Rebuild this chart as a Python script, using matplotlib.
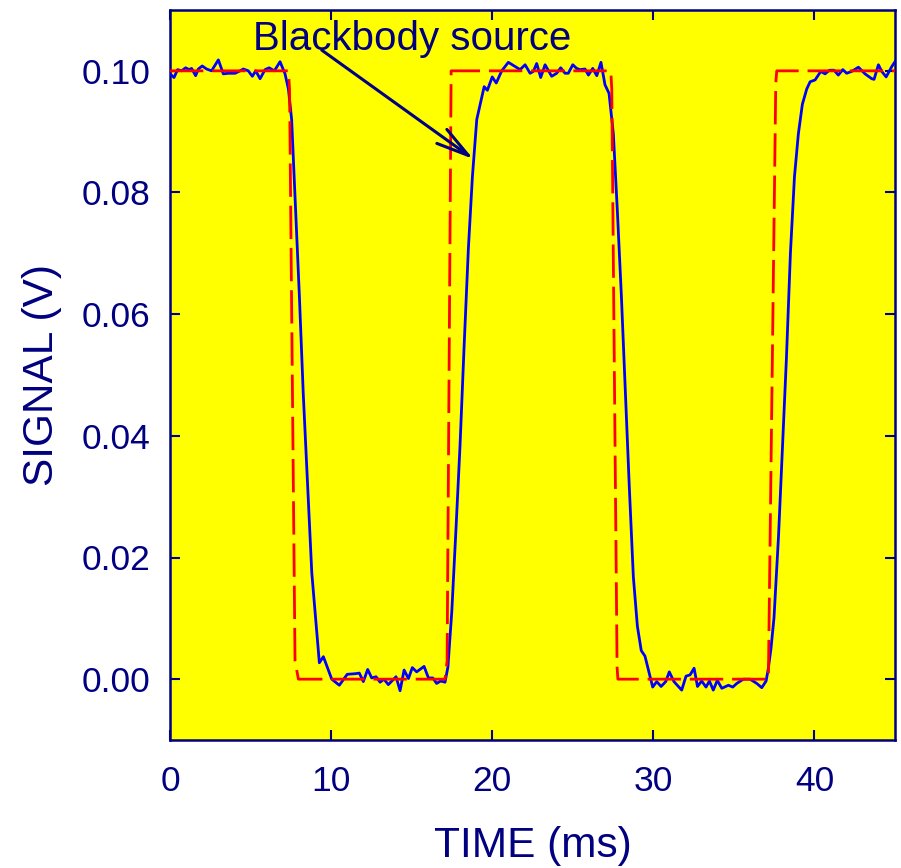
import matplotlib
matplotlib.use("Agg")
import matplotlib.pyplot as plt
from matplotlib.ticker import FormatStrFormatter

plt.rcParams['font.family'] = ['Liberation Sans', 'DejaVu Sans']

NAVY = '#000080'

# Measured detector signal (blue)
sig_t = [0.0, 0.25, 0.47, 0.72, 0.97, 1.18, 1.34, 1.59, 1.76, 2.0, 2.27, 2.58, 3.0, 3.31,
         3.62, 4.04, 4.35, 4.55, 4.86, 5.11, 5.32, 5.59, 5.9, 6.15, 6.48, 6.83, 7.14,
         7.35, 7.55, 7.78, 8.03, 8.27, 8.52, 8.80, 9.27, 9.52, 10.04, 10.51,
         11.0, 11.5, 11.75, 12.0, 12.27, 12.52, 12.79, 13.04, 13.28, 13.55, 14.03, 14.28,
         14.53, 14.8, 15.04, 15.31, 15.77, 16.04, 16.31, 16.55, 16.8, 17.07,
         17.25, 17.49, 17.76, 18.0, 18.25, 18.52, 18.77, 19.04, 19.5, 19.7, 20.0, 20.25,
         20.59, 21.0, 21.42, 21.73, 22.04, 22.35, 22.55, 22.76, 23.01, 23.28, 23.69, 24.0,
         24.25, 24.52, 24.72, 25.0, 25.24, 25.45, 25.76, 25.97, 26.24, 26.49, 26.75,
         27.0, 27.25, 27.52, 27.77, 28.02, 28.26, 28.51, 28.76, 29.01, 29.25, 29.48, 29.96,
         30.21, 30.48, 30.77, 30.99, 31.28, 31.76, 32.03, 32.28, 32.53, 32.74, 33.0, 33.27,
         33.48, 33.72, 33.97, 34.25, 34.66, 34.93, 35.18, 35.59, 36.0, 36.42, 36.73, 37.0,
         37.14, 37.3, 37.49, 37.77, 38.01, 38.26, 38.51, 38.76, 39.0, 39.25, 39.52, 39.73,
         40.04, 40.39, 40.66, 40.93, 41.22, 41.48, 41.76, 42.0, 42.31, 42.73, 43.14, 43.56,
         43.7, 43.97, 44.18, 44.45, 44.8, 45.0]
sig_v = [0.0995, 0.0989, 0.1002, 0.1000, 0.1005, 0.1002, 0.1004, 0.0992, 0.1003, 0.1008,
         0.1003, 0.1000, 0.1018, 0.0995, 0.0996, 0.0996, 0.1000, 0.1003, 0.1000, 0.0991,
         0.1000, 0.0987, 0.1002, 0.1005, 0.1000, 0.1015, 0.0995,
         0.0970, 0.0920, 0.0780, 0.0630, 0.0470, 0.0330, 0.0175, 0.0027, 0.0037, 0.0000, -0.0010,
         0.0008, 0.0009, 0.0010, -0.0004, 0.0016, 0.0002, 0.0004, -0.0005, 0.0000, -0.0009,
         0.0004, -0.0019, 0.0015, 0.0001, 0.0019, 0.0012, 0.0021, 0.0002, 0.0002, -0.0007,
         -0.0003, -0.0005,
         0.0020, 0.0111, 0.0252, 0.0383, 0.0544, 0.0708, 0.0826, 0.0920, 0.0974, 0.0968,
         0.0990, 0.0980, 0.1000, 0.1014, 0.1007, 0.1002, 0.1010, 0.0996, 0.0999, 0.1012,
         0.0989, 0.1010, 0.0991, 0.0996, 0.1005, 0.0996, 0.0996, 0.1010, 0.1004, 0.1002,
         0.1003, 0.0993, 0.1004, 0.0992, 0.1014,
         0.0977, 0.0963, 0.0896, 0.0768, 0.0628, 0.0473, 0.0315, 0.0168, 0.0087, 0.0047,
         0.0038, -0.0013,
         -0.0004, -0.0012, -0.0004, 0.0012, -0.0004, -0.0018, 0.0005, 0.0007, 0.0018, -0.0012,
         -0.0003, -0.0013, -0.0003, -0.0018, -0.0002, -0.0015, -0.0010, -0.0013, -0.0007,
         0.0000, 0.0000, -0.0007, -0.0014, -0.0003,
         0.0018, 0.0050, 0.0101, 0.0235, 0.0379, 0.0527, 0.0701, 0.0826, 0.0896, 0.0945,
         0.0970, 0.0982, 0.0985, 0.0999, 0.0995, 0.1001, 0.1001, 0.0993, 0.1002, 0.0996,
         0.0999, 0.1006, 0.0995, 0.0987, 0.0986, 0.1010, 0.0999, 0.0990, 0.1007, 0.1015]

# Blackbody reference (red dashed)
ref_t = [0.0, 7.35, 7.42, 7.76, 7.97, 17.07, 17.2, 17.45, 27.36, 27.42, 27.75, 27.8,
         37.14, 37.6, 37.66, 45.0]
ref_v = [0.1, 0.1, 0.097, 0.003, 0.0, 0.0, 0.003, 0.1, 0.1, 0.097, 0.002, 0.0,
         0.0, 0.098, 0.1, 0.1]

x_ticks = [0, 10, 20, 30, 40]
y_ticks = [0.00, 0.02, 0.04, 0.06, 0.08, 0.10]

fig = plt.figure(figsize=(9.01, 8.68), dpi=100)
ax = fig.add_axes([170/901, 1-740/868, 725/901, 730/868])
ax.set_facecolor('#ffff00')

ax.plot(sig_t, sig_v, color='#0000ff', lw=2.0, zorder=3)
ax.plot(ref_t, ref_v, color='#ff0000', lw=2.0, dashes=(12, 3.2), zorder=4)

ax.set_xlim(0, 45)
ax.set_ylim(-0.01, 0.11)
ax.set_xticks(x_ticks)
ax.set_yticks(y_ticks)
ax.yaxis.set_major_formatter(FormatStrFormatter('%.2f'))

for sp in ax.spines.values():
    sp.set_color(NAVY)
    sp.set_linewidth(1.8)

ax.tick_params(axis='both', which='major', direction='in', length=7, width=1.5,
               color=NAVY, labelcolor=NAVY, labelsize=25.5, top=True, right=True)
ax.tick_params(axis='x', pad=18)
ax.tick_params(axis='y', pad=14)

ax.set_xlabel('TIME (ms)', fontsize=30.5, color=NAVY, labelpad=20)
ax.set_ylabel('SIGNAL (V)', fontsize=30.5, color=NAVY, labelpad=14)

ax.text(5.15, 0.1035, 'Blackbody source', fontsize=29, color=NAVY,
        ha='left', va='baseline', zorder=6)
ax.annotate('', xy=(18.83, 0.0855), xytext=(9.42, 0.1034),
            arrowprops=dict(arrowstyle='->, head_length=1.18, head_width=0.31',
                            mutation_scale=20, lw=2.2, color=NAVY,
                            shrinkA=0, shrinkB=0), zorder=6)

fig.savefig('out.png', dpi=100, facecolor='white')
